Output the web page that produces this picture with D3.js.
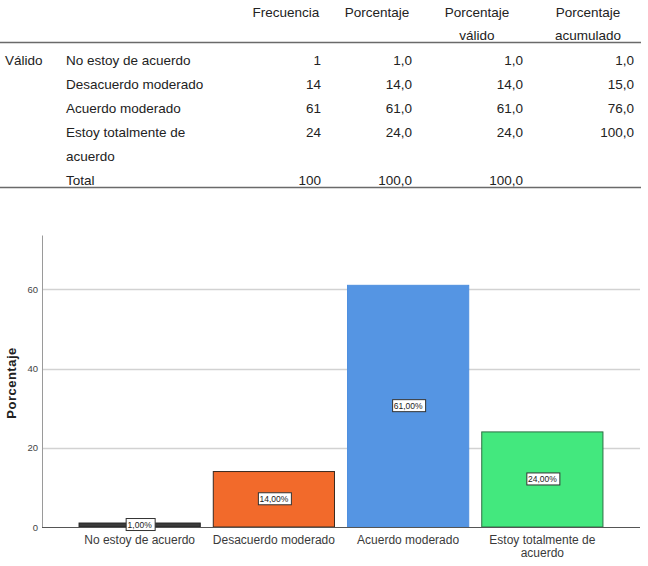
<!DOCTYPE html>
<html>
<head>
<meta charset="utf-8">
<script src="https://cdn.jsdelivr.net/npm/d3@7"></script>
<style>
  body { margin: 0; background: #fff; }
  svg { display: block; font-family: "Liberation Sans", Arial, sans-serif; }
</style>
</head>
<body>
<div id="chart"></div>
<script>
// Tabla de frecuencias
const categories = ["No estoy de acuerdo", "Desacuerdo moderado", "Acuerdo moderado", "Estoy totalmente de acuerdo"];
const frecuencia = [1, 14, 61, 24];
const porcentaje = [1.0, 14.0, 61.0, 24.0];
const porcentajeValido = [1.0, 14.0, 61.0, 24.0];
const porcentajeAcumulado = [1.0, 15.0, 76.0, 100.0];
const totales = { frecuencia: 100, porcentaje: 100.0, valido: 100.0 };
const yTicks = [0, 20, 40, 60];

const barColors = ["#3b3b3b", "#f26a2b", "#5595e3", "#43e87e"];
const barStrokes = ["#222", "#3a2a20", "#5090df", "#2f6f45"];

const width = 648, height = 566;
const fmt = v => v.toFixed(1).replace(".", ",");
const fmtPct = v => v.toFixed(2).replace(".", ",") + "%";

const svg = d3.select("#chart").append("svg")
    .attr("width", width)
    .attr("height", height);

// wrap text into tspans (classic d3 wrap)
function wrap(text, w, lineHeight) {
    text.each(function () {
        const t = d3.select(this);
        const words = t.text().split(/\s+/).reverse();
        const x = t.attr("x"), y = t.attr("y");
        let line = [], word, lineNo = 0;
        let tspan = t.text(null).append("tspan").attr("x", x).attr("y", y);
        while ((word = words.pop())) {
            line.push(word);
            tspan.text(line.join(" "));
            if (tspan.node().getComputedTextLength() > w && line.length > 1) {
                line.pop();
                tspan.text(line.join(" "));
                line = [word];
                lineNo++;
                tspan = t.append("tspan").attr("x", x).attr("y", +y + lineNo * lineHeight).text(word);
            }
        }
    });
}

// ---------- table ----------
const table = svg.append("g").attr("class", "tabla")
    .style("font-size", "13.5px")
    .style("fill", "#222");

const rowY = d3.scaleLinear().domain([0, 1]).range([65, 89]);
const colRight = [321, 412, 523, 634];
const headerX = [286, 377, 477, 588];
const headers = [["Frecuencia"], ["Porcentaje"], ["Porcentaje", "válido"], ["Porcentaje", "acumulado"]];

headers.forEach((h, i) => {
    h.forEach((line, j) => {
        table.append("text")
            .attr("x", headerX[i])
            .attr("y", 17 + j * 23)
            .attr("text-anchor", "middle")
            .text(line);
    });
});

table.append("line").attr("x1", 0).attr("x2", 641).attr("y1", 42.5).attr("y2", 42.5)
    .style("stroke", "#6a6a6a").style("stroke-width", 1.3);
table.append("line").attr("x1", 0).attr("x2", 641).attr("y1", 187.5).attr("y2", 187.5)
    .style("stroke", "#6a6a6a").style("stroke-width", 1.3);

table.append("text").attr("x", 5).attr("y", rowY(0)).text("Válido");

// row index in the table (the last category wraps onto two lines)
const rowIndex = [0, 1, 2, 3];
categories.forEach((c, i) => {
    table.append("text")
        .attr("x", 66)
        .attr("y", rowY(rowIndex[i]))
        .text(c)
        .call(wrap, 150, 24);
    const vals = [String(frecuencia[i]), fmt(porcentaje[i]), fmt(porcentajeValido[i]), fmt(porcentajeAcumulado[i])];
    vals.forEach((v, k) => {
        table.append("text")
            .attr("x", colRight[k])
            .attr("y", rowY(rowIndex[i]))
            .attr("text-anchor", "end")
            .text(v);
    });
});

table.append("text").attr("x", 66).attr("y", rowY(5)).text("Total");
[String(totales.frecuencia), fmt(totales.porcentaje), fmt(totales.valido)].forEach((v, k) => {
    table.append("text")
        .attr("x", colRight[k])
        .attr("y", rowY(5))
        .attr("text-anchor", "end")
        .text(v);
});

// ---------- bar chart ----------
const plot = { left: 42, right: 640, top: 235, bottom: 527 };

const x = d3.scaleBand()
    .domain(categories)
    .range([plot.left, plot.right])
    .paddingInner(0.097)
    .paddingOuter(0.276);

const y = d3.scaleLinear()
    .domain([0, 73.7])
    .range([plot.bottom, plot.top]);

// gridlines
svg.append("g")
    .selectAll("line")
    .data(yTicks.filter(d => d > 0))
    .enter().append("line")
    .attr("x1", plot.left).attr("x2", plot.right)
    .attr("y1", d => Math.round(y(d)) + 0.5).attr("y2", d => Math.round(y(d)) + 0.5)
    .style("stroke", "#d2d2d2")
    .style("stroke-width", 1.3);

// y axis
const yAxis = svg.append("g")
    .attr("transform", `translate(${plot.left},0)`)
    .call(d3.axisLeft(y).tickValues(yTicks).tickSize(0).tickPadding(4));
yAxis.select(".domain").style("stroke", "#9a9a9a");
yAxis.selectAll("text")
    .style("font-size", "9.5px")
    .style("fill", "#444")
    .style("font-family", "'Liberation Sans', Arial, sans-serif");

svg.append("text")
    .attr("transform", `translate(16,${(plot.top + plot.bottom) / 2 + 2}) rotate(-90)`)
    .attr("text-anchor", "middle")
    .style("font-size", "13px")
    .style("font-weight", "bold")
    .style("letter-spacing", "0.5px")
    .style("fill", "#222")
    .text("Porcentaje");

// bars
svg.append("g")
    .selectAll("rect")
    .data(categories)
    .enter().append("rect")
    .attr("x", d => x(d))
    .attr("y", (d, i) => y(porcentaje[i]))
    .attr("width", x.bandwidth())
    .attr("height", (d, i) => y(0) - y(porcentaje[i]))
    .style("fill", (d, i) => barColors[i])
    .style("stroke", (d, i) => barStrokes[i])
    .style("stroke-width", 1);

// x axis baseline
svg.append("line")
    .attr("x1", plot.left).attr("x2", plot.right)
    .attr("y1", plot.bottom + 0.5).attr("y2", plot.bottom + 0.5)
    .style("stroke", "#555")
    .style("stroke-width", 1);

// x labels
svg.append("g")
    .selectAll("text")
    .data(categories)
    .enter().append("text")
    .attr("x", d => x(d) + x.bandwidth() / 2)
    .attr("y", 544)
    .attr("text-anchor", "middle")
    .style("font-size", "12px")
    .style("fill", "#3a3a3a")
    .text(d => d)
    .call(wrap, x.bandwidth() + 6, 13);

// value labels with boxes
const labels = svg.append("g")
    .selectAll("g")
    .data(categories)
    .enter().append("g")
    .attr("transform", (d, i) => `translate(${x(d) + x.bandwidth() / 2},${(y(0) + y(porcentaje[i])) / 2})`);

labels.append("text")
    .attr("text-anchor", "middle")
    .attr("dy", "0.35em")
    .style("font-size", "8.5px")
    .style("fill", "#222")
    .text((d, i) => fmtPct(porcentaje[i]));

labels.each(function () {
    const g = d3.select(this);
    const bb = g.select("text").node().getBBox();
    g.insert("rect", "text")
        .attr("x", Math.round(bb.x - 2) + 0.5)
        .attr("y", -6.5)
        .attr("width", Math.round(bb.width + 4))
        .attr("height", 12)
        .style("fill", "#fff")
        .style("stroke", "#333")
        .style("stroke-width", 1);
});
</script>
</body>
</html>
